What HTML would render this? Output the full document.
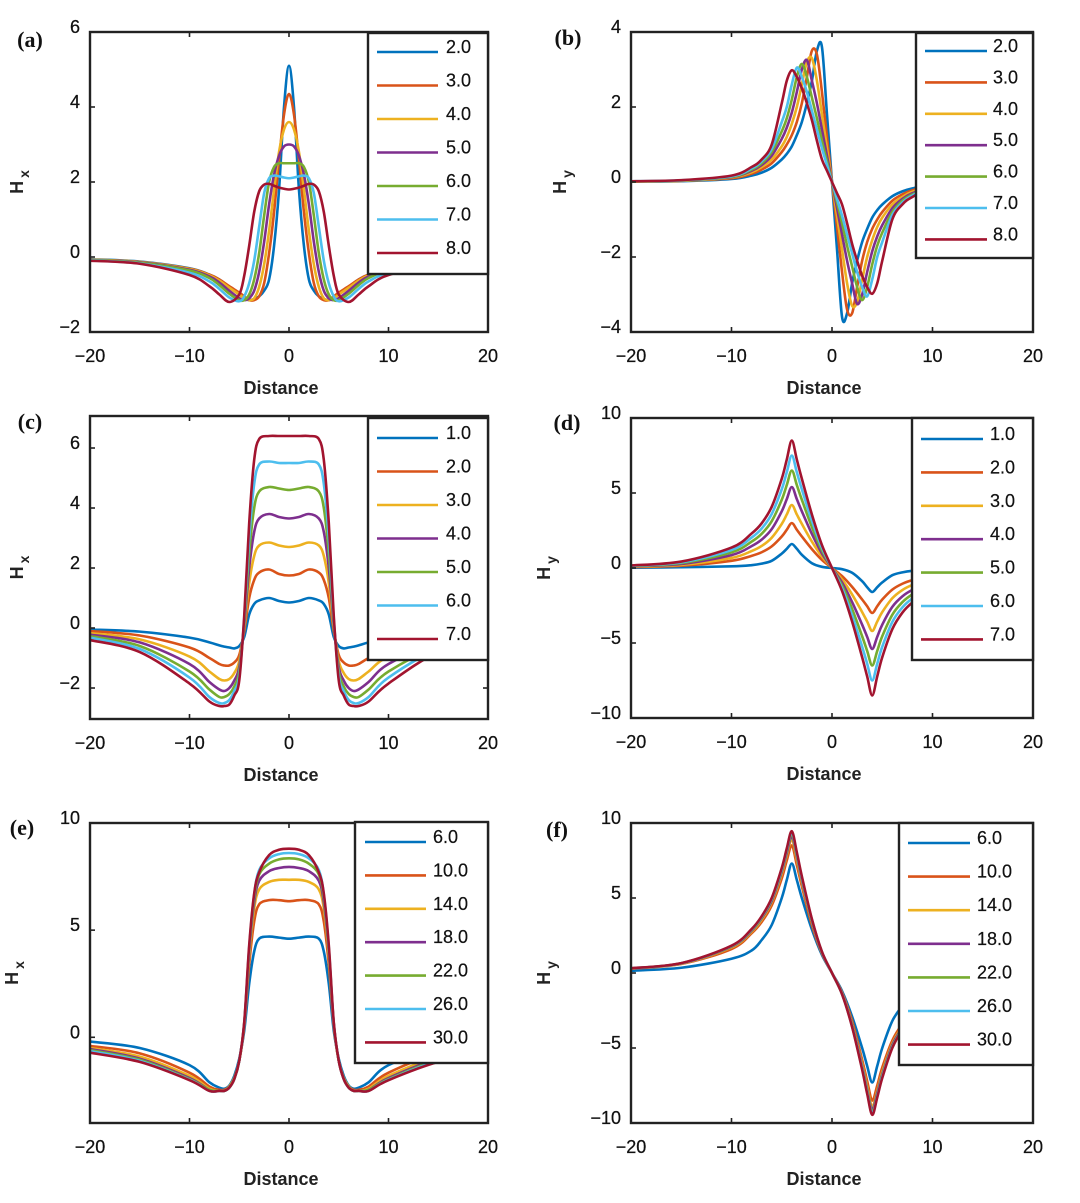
<!DOCTYPE html>
<html><head><meta charset="utf-8"><style>
html,body{margin:0;padding:0;background:#fff;}
svg{display:block;}
.tk{font-family:"Liberation Sans",sans-serif;font-size:18px;fill:#111;stroke:#111;stroke-width:0.25px;}
.lg{font-family:"Liberation Sans",sans-serif;font-size:18px;fill:#111;stroke:#111;stroke-width:0.2px;}
.xl{font-family:"Liberation Sans",sans-serif;font-size:18px;font-weight:bold;fill:#222;}
.pl{font-family:"Liberation Serif",serif;font-size:22px;font-weight:bold;fill:#111;}
</style></head><body>
<svg id="fig" xmlns="http://www.w3.org/2000/svg" width="1080" height="1203" viewBox="0 0 1080 1203"></svg>
<script>
const colors = ["#0072BD","#D95319","#EDB120","#7E2F8E","#77AC30","#4DBEEE","#A2142F"];
const xTicks = [-20,-10,0,10,20];

const aLabels = ["2.0","3.0","4.0","5.0","6.0","7.0","8.0"];
const aDist = [0,0.5,1,1.5,2,2.5,3,3.5,4,4.5,5,6,7,8,10,15,20];
const aS1 = [5.1,4.0,1.8,0.3,-0.6,-0.9,-1.05,-1.12,-1.15,-1.1,-1.0,-0.8,-0.6,-0.47,-0.3,-0.12,-0.06];
const aS2 = [4.35,3.8,2.6,1.2,0.1,-0.7,-1.05,-1.15,-1.15,-1.05,-0.95,-0.78,-0.6,-0.47,-0.31,-0.13,-0.07];
const aS3 = [3.6,3.4,2.8,1.8,0.7,-0.2,-0.8,-1.1,-1.15,-1.1,-1.0,-0.82,-0.63,-0.49,-0.32,-0.13,-0.07];
const aS4 = [3.0,2.95,2.7,2.2,1.4,0.4,-0.4,-0.9,-1.1,-1.15,-1.1,-0.9,-0.68,-0.52,-0.34,-0.14,-0.08];
const aS5 = [2.5,2.5,2.5,2.4,2.0,1.1,0.1,-0.6,-1.0,-1.15,-1.15,-0.98,-0.75,-0.56,-0.36,-0.15,-0.08];
const aS6 = [2.1,2.12,2.15,2.17,2.1,1.7,0.8,-0.1,-0.7,-1.05,-1.18,-1.08,-0.85,-0.65,-0.42,-0.17,-0.09];
const aS7 = [1.8,1.82,1.85,1.9,1.95,1.93,1.75,1.2,0.3,-0.5,-1.0,-1.2,-1.0,-0.78,-0.48,-0.18,-0.1];
const aYTicks = [-2,0,2,4,6];

const bLabels = ["2.0","3.0","4.0","5.0","6.0","7.0","8.0"];
const bDist = [0,0.5,1,1.5,2,2.5,3,3.5,4,4.5,5,6,7,8,10,15,20];
const bS1 = [0,1.8,3.6,3.5,2.7,2.1,1.6,1.25,0.95,0.75,0.6,0.38,0.25,0.17,0.08,0.02,0.01];
const bS2 = [0,1.2,2.4,3.4,3.5,2.8,2.1,1.6,1.25,1.0,0.8,0.5,0.33,0.22,0.1,0.03,0.01];
const bS3 = [0,0.9,1.8,2.7,3.3,3.2,2.6,2.0,1.55,1.2,0.95,0.6,0.4,0.26,0.12,0.03,0.01];
const bS4 = [0,0.7,1.4,2.1,2.7,3.25,3.0,2.4,1.85,1.45,1.15,0.7,0.45,0.3,0.13,0.04,0.015];
const bS5 = [0,0.55,1.1,1.7,2.25,2.8,3.15,2.8,2.2,1.7,1.35,0.8,0.5,0.33,0.14,0.04,0.015];
const bS6 = [0,0.45,0.9,1.4,1.9,2.4,2.8,3.05,2.6,2.0,1.6,0.88,0.55,0.36,0.15,0.045,0.02];
const bS7 = [0,0.3,0.6,1.1,1.65,2.1,2.5,2.8,2.98,2.7,2.1,1.0,0.6,0.4,0.17,0.05,0.02];
const bYTicks = [-4,-2,0,2,4];

const cLabels = ["1.0","2.0","3.0","4.0","5.0","6.0","7.0"];
const cDist = [0,1,2,3,3.5,4,4.5,5,5.5,6,6.5,7,8,10,15,20];
const cS1 = [0.85,0.9,1.0,0.92,0.8,0.45,-0.3,-0.6,-0.68,-0.65,-0.62,-0.58,-0.48,-0.32,-0.12,-0.05];
const cS2 = [1.75,1.8,1.95,1.85,1.6,1.0,-0.1,-0.9,-1.15,-1.25,-1.25,-1.2,-1.0,-0.65,-0.25,-0.1];
const cS3 = [2.7,2.75,2.85,2.75,2.4,1.5,0.0,-1.1,-1.5,-1.7,-1.75,-1.7,-1.45,-0.95,-0.38,-0.17];
const cS4 = [3.65,3.7,3.8,3.65,3.2,2.0,0.1,-1.3,-1.75,-2.0,-2.1,-2.05,-1.8,-1.2,-0.48,-0.22];
const cS5 = [4.6,4.65,4.7,4.55,4.0,2.5,0.2,-1.45,-1.95,-2.2,-2.3,-2.3,-2.05,-1.45,-0.6,-0.27];
const cS6 = [5.5,5.5,5.55,5.45,4.8,3.0,0.3,-1.6,-2.1,-2.4,-2.5,-2.5,-2.3,-1.65,-0.7,-0.32];
const cS7 = [6.4,6.4,6.4,6.3,5.6,3.5,0.4,-1.75,-2.25,-2.55,-2.6,-2.6,-2.45,-1.85,-0.8,-0.4];
const cYTicks = [-2,0,2,4,6];

const dLabels = ["1.0","2.0","3.0","4.0","5.0","6.0","7.0"];
const dDist = [0,1,2,3,3.5,4,4.5,5,6,7,8,10,15,20];
const dS1 = [0,0.08,0.32,0.88,1.28,1.6,1.28,0.96,0.48,0.29,0.19,0.11,0.05,0.02];
const dS2 = [0,0.54,1.26,2.1,2.55,3.0,2.55,2.1,1.44,1.05,0.81,0.48,0.15,0.06];
const dS3 = [0,0.76,1.76,2.94,3.57,4.2,3.57,2.94,2.02,1.47,1.13,0.67,0.21,0.08];
const dS4 = [0,0.97,2.27,3.78,4.59,5.4,4.59,3.78,2.59,1.89,1.46,0.86,0.27,0.11];
const dS5 = [0,1.17,2.73,4.55,5.53,6.5,5.53,4.55,3.12,2.28,1.76,1.04,0.33,0.13];
const dS6 = [0,1.35,3.15,5.25,6.38,7.5,6.38,5.25,3.6,2.63,2.03,1.2,0.38,0.15];
const dS7 = [0,1.53,3.57,5.95,7.23,8.5,7.23,5.95,4.08,2.98,2.3,1.36,0.43,0.17];
const dYTicks = [-10,-5,0,5,10];

const eLabels = ["6.0","10.0","14.0","18.0","22.0","26.0","30.0"];
const eDist = [0,1,2,3,3.5,4,4.5,5,5.5,6,6.5,7,8,10,15,20];
const eS1 = [4.6,4.65,4.7,4.6,4.0,2.5,0.3,-1.0,-1.8,-2.25,-2.4,-2.35,-2.1,-1.3,-0.5,-0.2];
const eS2 = [6.35,6.4,6.4,6.2,5.4,3.4,0.5,-1.1,-1.9,-2.3,-2.45,-2.45,-2.3,-1.65,-0.75,-0.4];
const eS3 = [7.35,7.35,7.25,6.9,6.0,3.8,0.6,-1.1,-1.9,-2.3,-2.5,-2.5,-2.4,-1.8,-0.9,-0.5];
const eS4 = [7.95,7.9,7.75,7.3,6.3,4.0,0.6,-1.1,-1.95,-2.35,-2.5,-2.5,-2.45,-1.9,-1.0,-0.55];
const eS5 = [8.35,8.3,8.1,7.6,6.5,4.1,0.65,-1.1,-1.95,-2.35,-2.5,-2.5,-2.45,-1.95,-1.05,-0.6];
const eS6 = [8.6,8.55,8.35,7.8,6.65,4.2,0.65,-1.1,-1.95,-2.35,-2.5,-2.5,-2.5,-1.98,-1.1,-0.65];
const eS7 = [8.8,8.75,8.5,7.7,6.7,4.3,0.7,-1.1,-1.95,-2.35,-2.5,-2.5,-2.5,-2.0,-1.15,-0.72];
const eYTicks = [0,5,10];

const fLabels = ["6.0","10.0","14.0","18.0","22.0","26.0","30.0"];
const fDist = [0,1,2,3,3.5,4,4.5,5,6,7,8,10,15,20];
const fS1 = [0,1.2,2.9,5.0,6.2,7.3,6.2,5.0,3.2,2.2,1.5,0.95,0.35,0.15];
const fS2 = [0,1.3,3.2,5.8,7.2,8.5,7.5,6.3,4.5,3.4,2.65,1.6,0.6,0.28];
const fS3 = [0,1.35,3.4,6.05,7.55,8.9,7.85,6.6,4.7,3.55,2.75,1.7,0.62,0.3];
const fS4 = [0,1.37,3.45,6.2,7.75,9.1,8.0,6.75,4.8,3.65,2.82,1.75,0.64,0.3];
const fS5 = [0,1.4,3.5,6.3,7.85,9.25,8.15,6.85,4.9,3.7,2.87,1.78,0.65,0.31];
const fS6 = [0,1.4,3.55,6.35,7.95,9.35,8.23,6.92,4.95,3.74,2.9,1.8,0.65,0.31];
const fS7 = [0,1.42,3.6,6.45,8.05,9.45,8.3,7.0,5.0,3.78,2.93,1.82,0.66,0.32];
const fYTicks = [-10,-5,0,5,10];

const NS = "http://www.w3.org/2000/svg";
const svg = document.getElementById("fig");
function mk(tag, attrs, parent){
  const e = document.createElementNS(NS, tag);
  for (const k in attrs) e.setAttribute(k, attrs[k]);
  (parent||svg).appendChild(e);
  return e;
}
function catmull(pts){
  let d = "M" + pts[0][0].toFixed(2) + "," + pts[0][1].toFixed(2);
  for (let i=0;i<pts.length-1;i++){
    const p0 = pts[Math.max(0,i-1)], p1 = pts[i], p2 = pts[i+1], p3 = pts[Math.min(pts.length-1,i+2)];
    const c1x = p1[0] + (p2[0]-p0[0])/6, c1y = p1[1] + (p2[1]-p0[1])/6;
    const c2x = p2[0] - (p3[0]-p1[0])/6, c2y = p2[1] - (p3[1]-p1[1])/6;
    d += " C"+c1x.toFixed(2)+","+c1y.toFixed(2)+" "+c2x.toFixed(2)+","+c2y.toFixed(2)+" "+p2[0].toFixed(2)+","+p2[1].toFixed(2);
  }
  return d;
}

function panel(cfg){
  const g = mk("g", {});
  
  
  const [L,T,R,B] = cfg.box;
  const xs = v => L + (v - (-20)) / 40 * (R - L);
  const ys = v => B - (v - cfg.ylim[0]) / (cfg.ylim[1]-cfg.ylim[0]) * (B - T);
  const cp = mk("clipPath", {id:"clip-"+cfg.id}, g);
  mk("rect", {x:L, y:T, width:R-L, height:B-T}, cp);
  const sg = mk("g", {"clip-path":"url(#clip-"+cfg.id+")"}, g);
  cfg.series.forEach((vals, si) => {
    const pts = [];
    for (let i=cfg.dist.length-1;i>=1;i--){
      pts.push([xs(-cfg.dist[i]), ys(vals[i])]);
    }
    pts.push([xs(0), ys(vals[0])]);
    for (let i=1;i<cfg.dist.length;i++){
      pts.push([xs(cfg.dist[i]), ys(cfg.odd ? -vals[i] : vals[i])]);
    }
    const p = mk("path", {d:catmull(pts), fill:"none", stroke:colors[si], "stroke-width":2.6, "stroke-linejoin":"round"}, sg);
    
    
  });
  const box = mk("rect", {x:L, y:T, width:R-L, height:B-T, fill:"none", stroke:"#222", "stroke-width":2.4}, g);
  
  
  xTicks.forEach(t => {
    const x = xs(t);
    mk("line", {x1:x, x2:x, y1:B, y2:B-5, stroke:"#222", "stroke-width":1.6}, g);
    mk("line", {x1:x, x2:x, y1:T, y2:T+5, stroke:"#222", "stroke-width":1.6}, g);
    const tx = mk("text", {x:x, y:B+30, "text-anchor":"middle", class:"tk"}, g);
    tx.textContent = (t<0 ? "\u2212"+(-t) : ""+t);
    
    
  });
  cfg.yticks.forEach(t => {
    const y = ys(t);
    mk("line", {x1:L, x2:L+5, y1:y, y2:y, stroke:"#222", "stroke-width":1.6}, g);
    mk("line", {x1:R, x2:R-5, y1:y, y2:y, stroke:"#222", "stroke-width":1.6}, g);
    const ty = mk("text", {x:L-10, y:y+1, "text-anchor":"end", class:"tk"}, g);
    ty.textContent = (t<0 ? "\u2212"+(-t) : ""+t);
    
    
  });
  const xl = mk("text", {x:(L+R)/2-8, y:B+62, "text-anchor":"middle", class:"xl"}, g);
  xl.textContent = "Distance";
  
  
  const yl = mk("text", {x:0, y:0, "text-anchor":"middle", class:"xl", transform:"translate("+(cfg.ylx+6)+","+((T+B)/2)+") rotate(-90)"}, g);
  
  
  const h = mk("tspan", {}, yl); h.textContent = "H";
  const s = mk("tspan", {dx:"3", dy:"6", "font-size":"14"}, yl); s.textContent = cfg.sub;
  const pl = mk("text", {x:cfg.letter[0], y:cfg.letter[1], "text-anchor":"middle", class:"pl"}, g);
  pl.textContent = "(" + cfg.id + ")";
  
  
  const lgd = cfg.legend;
  const lg = mk("g", {}, g);
  
  
  mk("rect", {x:lgd.x, y:lgd.y, width:R-lgd.x, height:lgd.h, fill:"#fff", stroke:"#222", "stroke-width":2.4}, lg);
  cfg.labels.forEach((lab, i) => {
    const y = lgd.r0 + i*lgd.step;
    const e = mk("g", {}, lg);
    
    
    mk("line", {x1:lgd.lx1, x2:lgd.lx2, y1:y, y2:y, stroke:colors[i], "stroke-width":2.6}, e);
    const t = mk("text", {x:lgd.tx, y:y+1, class:"lg"}, e);
    t.textContent = lab;
  });
}

panel({id:"a", box:[90,32,488,332], ylim:[-2,6], yticks:aYTicks, dist:aDist, odd:false,
  series:[aS1,aS2,aS3,aS4,aS5,aS6,aS7], labels:aLabels, sub:"x", ylx:17, letter:[30,47],
  legend:{x:368,y:33,h:241,r0:52,step:33.5,lx1:377,lx2:438,tx:446}});
panel({id:"b", box:[631,32,1033,332], ylim:[-4,4], yticks:bYTicks, dist:bDist, odd:true,
  series:[bS1,bS2,bS3,bS4,bS5,bS6,bS7], labels:bLabels, sub:"y", ylx:560, letter:[568,45],
  legend:{x:916,y:33,h:225,r0:51,step:31.4,lx1:925,lx2:987,tx:993}});
panel({id:"c", box:[90,416,488,719], ylim:[-3.033,7.067], yticks:cYTicks, dist:cDist, odd:false,
  series:[cS1,cS2,cS3,cS4,cS5,cS6,cS7], labels:cLabels, sub:"x", ylx:17, letter:[30,429],
  legend:{x:368,y:418,h:242,r0:438,step:33.5,lx1:377,lx2:438,tx:446}});
panel({id:"d", box:[631,418,1033,718], ylim:[-10,10], yticks:dYTicks, dist:dDist, odd:true,
  series:[dS1,dS2,dS3,dS4,dS5,dS6,dS7], labels:dLabels, sub:"y", ylx:544, letter:[567,430],
  legend:{x:912,y:418,h:242,r0:439,step:33.4,lx1:921,lx2:983,tx:990}});
panel({id:"e", box:[90,823,488,1123], ylim:[-4,10], yticks:eYTicks, dist:eDist, odd:false,
  series:[eS1,eS2,eS3,eS4,eS5,eS6,eS7], labels:eLabels, sub:"x", ylx:12, letter:[22,835],
  legend:{x:355,y:822,h:241,r0:842,step:33.4,lx1:365,lx2:426,tx:433}});
panel({id:"f", box:[631,823,1033,1123], ylim:[-10,10], yticks:fYTicks, dist:fDist, odd:true,
  series:[fS1,fS2,fS3,fS4,fS5,fS6,fS7], labels:fLabels, sub:"y", ylx:544, letter:[557,837],
  legend:{x:899,y:823,h:242,r0:843,step:33.6,lx1:908,lx2:970,tx:977}});
</script>
</body></html>
